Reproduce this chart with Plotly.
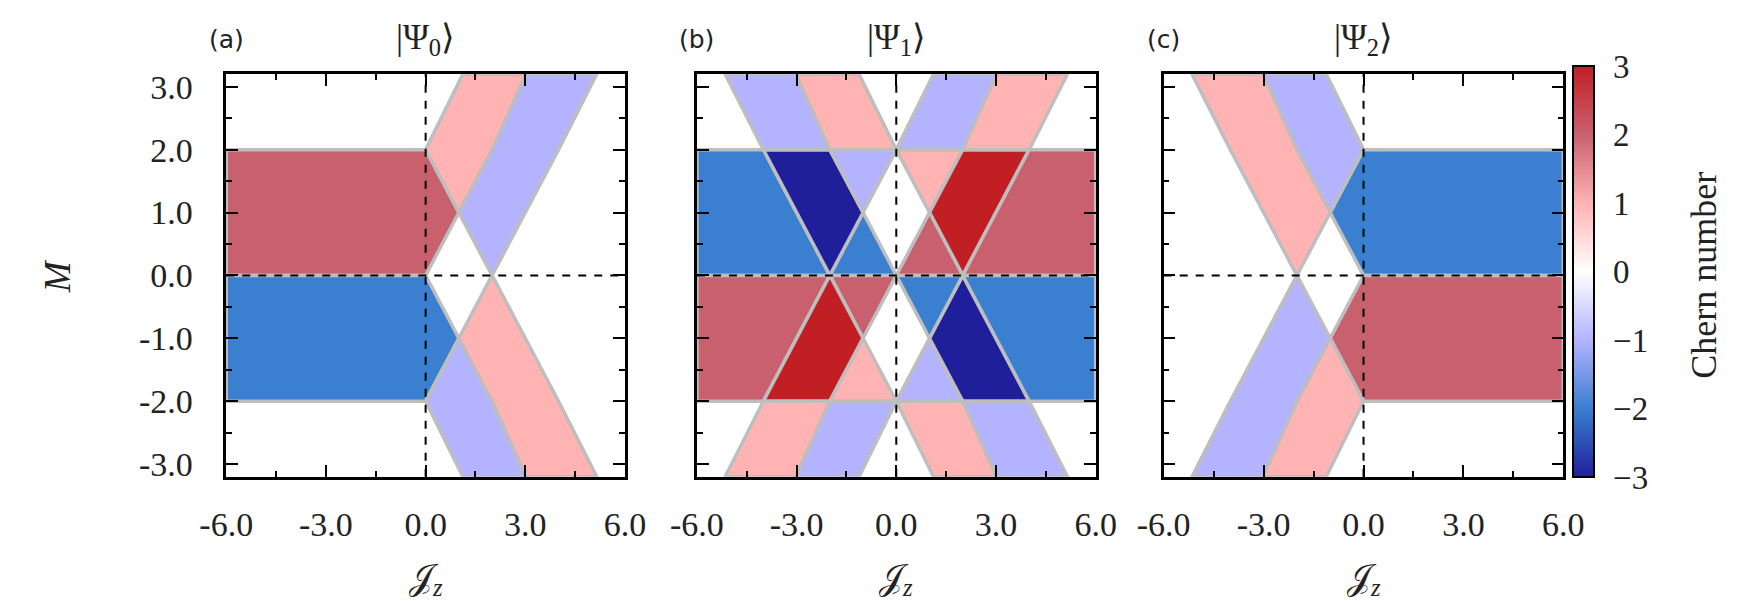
import plotly.graph_objects as go

# Chern number -> colour
CHERN_LEVELS = [-3, -2, -1, 0, 1, 2, 3]
CHERN_COLORS = ["#1f1f9c", "#3a7fd0", "#b3b3ff", "#ffffff", "#ffb3b3", "#c9606e", "#c21f24"]
CHERN_TICK_TEXT = ["\u22123", "\u22122", "\u22121", "0", "1", "2", "3"]

X_TICKS = [-6, -3, 0, 3, 6]
X_TICK_TEXT = ["-6.0", "-3.0", "0.0", "3.0", "6.0"]
Y_TICKS = [-3, -2, -1, 0, 1, 2, 3]
Y_TICK_TEXT = ["-3.0", "-2.0", "-1.0", "0.0", "1.0", "2.0", "3.0"]
JZ_RANGE = [-6, 6]
M_RANGE = [-3.2, 3.2]

PANEL_TAGS = ["(a)", "(b)", "(c)"]
PANEL_STATES = ["|\u03a8<sub>0</sub>\u27e9", "|\u03a8<sub>1</sub>\u27e9", "|\u03a8<sub>2</sub>\u27e9"]

# phase regions: (Chern number, polygon vertices (Jz, M)); white (C=0) is left empty
PSI0_REGIONS = [
    (2, [(-6, 0), (-6, 2), (0, 2), (1, 1), (0, 0)]),
    (-2, [(-6, 0), (0, 0), (1, -1), (0, -2), (-6, -2)]),
    (1, [(0, 2), (1.12, 3.2), (3.02, 3.2), (2, 2), (1, 1)]),
    (-1, [(1, 1), (2, 2), (3.02, 3.2), (5.15, 3.2), (4, 2), (2, 0)]),
    (-1, [(0, -2), (1.12, -3.2), (3.02, -3.2), (2, -2), (1, -1)]),
    (1, [(1, -1), (2, -2), (3.02, -3.2), (5.15, -3.2), (4, -2), (2, 0)]),
]

PSI1_REGIONS = [
    # 0 < M < 2
    (-2, [(-6, 0), (-6, 2), (-4, 2), (-2, 0)]),
    (-2, [(-1, 1), (0, 0), (-2, 0)]),
    (-3, [(-4, 2), (-2, 2), (-1, 1), (-2, 0)]),
    (-1, [(-2, 2), (0, 2), (-1, 1)]),
    (1, [(0, 2), (2, 2), (1, 1)]),
    (3, [(2, 2), (4, 2), (2, 0), (1, 1)]),
    (2, [(1, 1), (2, 0), (0, 0)]),
    (2, [(4, 2), (6, 2), (6, 0), (2, 0)]),
    # -2 < M < 0
    (2, [(-6, 0), (-2, 0), (-4, -2), (-6, -2)]),
    (2, [(-2, 0), (0, 0), (-1, -1)]),
    (3, [(-2, 0), (-1, -1), (-2, -2), (-4, -2)]),
    (1, [(-1, -1), (0, -2), (-2, -2)]),
    (-1, [(0, -2), (2, -2), (1, -1)]),
    (-3, [(1, -1), (2, 0), (4, -2), (2, -2)]),
    (-2, [(0, 0), (2, 0), (1, -1)]),
    (-2, [(2, 0), (6, 0), (6, -2), (4, -2)]),
    # M > 2
    (-1, [(-4, 2), (-5.15, 3.2), (-3.02, 3.2), (-2, 2)]),
    (1, [(-2, 2), (-3.02, 3.2), (-1.12, 3.2), (0, 2)]),
    (-1, [(0, 2), (1.12, 3.2), (3.02, 3.2), (2, 2)]),
    (1, [(2, 2), (3.02, 3.2), (5.15, 3.2), (4, 2)]),
    # M < -2
    (1, [(-4, -2), (-5.15, -3.2), (-3.02, -3.2), (-2, -2)]),
    (-1, [(-2, -2), (-3.02, -3.2), (-1.12, -3.2), (0, -2)]),
    (1, [(0, -2), (1.12, -3.2), (3.02, -3.2), (2, -2)]),
    (-1, [(2, -2), (3.02, -3.2), (5.15, -3.2), (4, -2)]),
]

PSI2_REGIONS = [
    (-2, [(6, 0), (6, 2), (0, 2), (-1, 1), (0, 0)]),
    (2, [(6, 0), (0, 0), (-1, -1), (0, -2), (6, -2)]),
    (-1, [(0, 2), (-1.12, 3.2), (-3.02, 3.2), (-2, 2), (-1, 1)]),
    (1, [(-1, 1), (-2, 2), (-3.02, 3.2), (-5.15, 3.2), (-4, 2), (-2, 0)]),
    (1, [(0, -2), (-1.12, -3.2), (-3.02, -3.2), (-2, -2), (-1, -1)]),
    (-1, [(-1, -1), (-2, -2), (-3.02, -3.2), (-5.15, -3.2), (-4, -2), (-2, 0)]),
]

PANELS = [PSI0_REGIONS, PSI1_REGIONS, PSI2_REGIONS]

W, H = 1741, 601
X_DOMAINS = [(196.7 / W, 606.7 / W), (680.7 / W, 1090.7 / W), (1160.7 / W, 1571.7 / W)]
Y_DOMAIN = (1 - 472.3 / H, 1 - 62.3 / H)
SERIF = "Liberation Serif"
TXT = "#222"
GRAY = "#bebebe"

color_of = dict(zip(CHERN_LEVELS, CHERN_COLORS))
colorscale = [[(v - CHERN_LEVELS[0]) / (CHERN_LEVELS[-1] - CHERN_LEVELS[0]), c]
              for v, c in zip(CHERN_LEVELS, CHERN_COLORS)]

fig = go.Figure()

for i, regions in enumerate(PANELS):
    xa = "x" if i == 0 else f"x{i + 1}"
    ya = "y" if i == 0 else f"y{i + 1}"
    for chern, verts in regions:
        fig.add_trace(go.Scatter(
            x=[p[0] for p in verts] + [verts[0][0]],
            y=[p[1] for p in verts] + [verts[0][1]],
            mode="lines", fill="toself",
            fillcolor=color_of[chern],
            line=dict(color=GRAY, width=3.5),
            xaxis=xa, yaxis=ya, hoverinfo="skip", showlegend=False,
        ))

# dummy trace only to carry the colour bar
cb_len = 410.7
cb_bottom = 1 - 473 / H
cb_left, cb_right = 1581.7 / W, 1602.7 / W
fig.add_trace(go.Scatter(
    x=[None], y=[None], mode="markers", showlegend=False, hoverinfo="skip",
    marker=dict(
        color=[0], cmin=-3, cmax=3, colorscale=colorscale, showscale=True,
        colorbar=dict(
            x=cb_left, xanchor="left", xpad=0,
            y=cb_bottom, yanchor="bottom", ypad=0,
            len=cb_len, lenmode="pixels", thickness=21, thicknessmode="pixels",
            outlinewidth=2, outlinecolor="black",
            tickvals=CHERN_LEVELS, ticktext=CHERN_TICK_TEXT,
            ticks="outside", ticklen=12, tickcolor="rgba(0,0,0,0)",
            tickfont=dict(family=SERIF, size=33, color=TXT),
        ),
    ),
    xaxis="x3", yaxis="y3",
))

axis_common = dict(
    showline=True, linecolor="black", linewidth=2.5, mirror="ticks",
    ticks="inside", tickwidth=2, tickcolor="black", showgrid=False, zeroline=False,
    tickfont=dict(family=SERIF, size=34, color=TXT),
)

layout = dict(
    width=W, height=H, margin=dict(l=0, r=0, t=0, b=0),
    plot_bgcolor="white", paper_bgcolor="white", showlegend=False,
)

shapes = []
annotations = []
for i in range(3):
    sfx = "" if i == 0 else str(i + 1)
    layout[f"xaxis{sfx}"] = dict(
        axis_common, domain=X_DOMAINS[i], range=JZ_RANGE, anchor=f"y{sfx}",
        tickvals=X_TICKS, ticktext=X_TICK_TEXT, ticklen=12, ticklabelstandoff=16,
        minor=dict(dtick=1.5, tick0=0, ticks="inside", ticklen=6, tickwidth=2, tickcolor="black"),
    )
    layout[f"yaxis{sfx}"] = dict(
        axis_common, domain=Y_DOMAIN, range=M_RANGE, anchor=f"x{sfx}",
        tickvals=Y_TICKS, ticktext=Y_TICK_TEXT, ticklen=12, ticklabelstandoff=24,
        showticklabels=(i == 0),
        minor=dict(dtick=0.5, tick0=0, ticks="inside", ticklen=6, tickwidth=2, tickcolor="black"),
    )
    # dashed reference lines M = 0 and Jz = 0
    shapes.append(dict(type="line", xref=f"x{sfx} domain", yref=f"y{sfx}",
                       x0=0, x1=1, y0=0, y1=0,
                       line=dict(color="black", width=2, dash="8px,8px")))
    shapes.append(dict(type="line", xref=f"x{sfx}", yref=f"y{sfx} domain",
                       x0=0, x1=0, y0=0, y1=1,
                       line=dict(color="black", width=2, dash="8px,8px")))
    annotations.append(dict(text=PANEL_TAGS[i], xref=f"x{sfx} domain", yref="paper",
                            x=0, y=1 - 27.5 / H, xanchor="center", yanchor="middle",
                            showarrow=False,
                            font=dict(family="DejaVu Sans", size=25, color=TXT)))
    annotations.append(dict(text=PANEL_STATES[i], xref=f"x{sfx} domain", yref="paper",
                            x=0.5, y=1 - 27 / H, xanchor="center", yanchor="middle",
                            showarrow=False,
                            font=dict(family=SERIF, size=35, color=TXT)))
    annotations.append(dict(text="\U0001d4a5<sub><i>z</i></sub>", xref=f"x{sfx} domain",
                            yref="paper", x=0.5, y=1 - 577 / H,
                            xanchor="center", yanchor="middle", showarrow=False,
                            font=dict(family=SERIF, size=35, color=TXT)))

annotations.append(dict(text="<i>M</i>", xref="paper", yref="paper",
                        x=22.7 / W, y=1 - 268 / H, textangle=-90,
                        xanchor="center", yanchor="middle", showarrow=False,
                        font=dict(family=SERIF, size=37, color=TXT)))
annotations.append(dict(text="Chern number", xref="paper", yref="paper",
                        x=1716 / W, y=1 - 267 / H, textangle=-90,
                        xanchor="center", yanchor="middle", showarrow=False,
                        font=dict(family=SERIF, size=36, color=TXT)))

# dashed marks inside the colour bar at each integer level
for v in CHERN_LEVELS[1:-1]:
    yv = cb_bottom + (v - CHERN_LEVELS[0]) / (CHERN_LEVELS[-1] - CHERN_LEVELS[0]) * cb_len / H
    shapes.append(dict(type="line", xref="paper", yref="paper",
                       x0=cb_left, x1=cb_right, y0=yv, y1=yv,
                       line=dict(color=TXT, width=2, dash="6px,5px")))

layout["shapes"] = shapes
layout["annotations"] = annotations
fig.update_layout(**layout)

fig.write_html("out.html")
